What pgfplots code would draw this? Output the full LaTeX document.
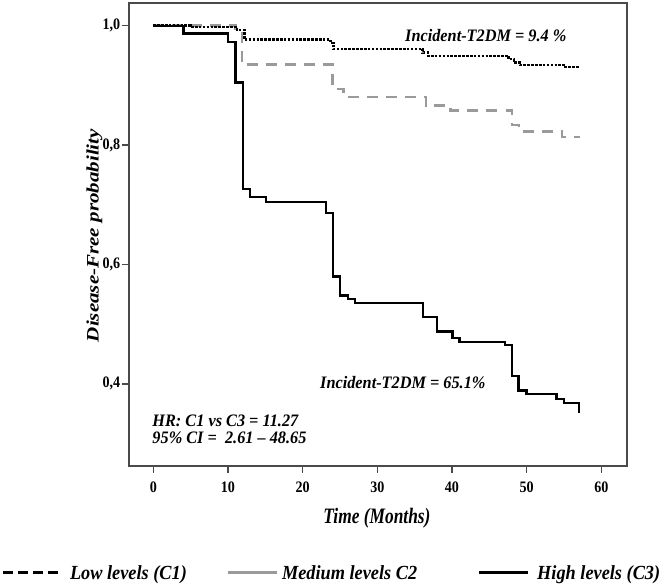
\documentclass[border=0pt]{standalone}
\usepackage{fontspec}
\usepackage{pgfplots}
\pgfplotsset{compat=1.18}
\setmainfont{Liberation Serif}
\newfontfamily\tickfamily{Liberation Serif}[FakeStretch=0.88]
\newfontfamily\annfamily{Liberation Serif}[FakeStretch=0.93, Ligatures=TeX]
\newfontfamily\legfamily{Liberation Serif}[FakeStretch=0.915]
\newfontfamily\xlabfamily{Liberation Serif}[FakeStretch=0.79]
\newfontfamily\ylabfamily{Liberation Serif}[FakeStretch=1.2]
\newcommand\tickfont{\tickfamily\bfseries\fontsize{16}{19}\selectfont}
\newcommand\annfont{\annfamily\bfseries\itshape\fontsize{17.5}{21}\selectfont}
\newcommand\legfont{\legfamily\bfseries\itshape\fontsize{20}{24}\selectfont}
\newcommand\xlabfont{\xlabfamily\bfseries\itshape\fontsize{22}{26}\selectfont}
\newcommand\ylabfont{\ylabfamily\bfseries\itshape\fontsize{17.5}{21}\selectfont}
\definecolor{axgray}{HTML}{4A4A4A}
\definecolor{medgray}{HTML}{9A9A9A}
\begin{document}
\begin{tikzpicture}
\useasboundingbox (0,0) rectangle (668pt,586pt);
\begin{axis}[
  at={(129.3pt,120.3pt)}, anchor=south west,
  scale only axis, width=497.4pt, height=463pt,
  xmin=-3.21, xmax=63.4, ymin=0.263, ymax=1.0385,
  xtick={0,10,20,30,40,50,60},
  xticklabels={0,10,20,30,40,50,60},
  ytick={0.4,0.6,0.8,1.0},
  yticklabels={{0,4},{0,6},{0,8},{1,0}},
  xtick pos=bottom, ytick pos=left,
  tick align=outside, major tick length=7pt,
  axis line style={axgray, line width=1.8pt},
  every tick/.style={axgray, line width=1.5pt},
  tick label style={font=\tickfont, inner sep=0pt},
  xticklabel style={anchor=north, yshift=-9pt},
  yticklabel style={anchor=east, xshift=-2pt},
  xlabel={Time (Months)},
  ylabel={Disease-Free probability},
  every axis x label/.style={at={(axis description cs:0.498,-0.1244)}, anchor=base, font=\xlabfont, inner sep=0pt},
  every axis y label/.style={at={(axis description cs:-0.0619,0.497)}, rotate=90, anchor=base, font=\ylabfont, inner sep=0pt},
  legend columns=3,
  legend cell align=left,
  legend style={at={(axis description cs:-0.2565,-0.2317)}, anchor=west,
    draw=none, fill=none, inner sep=0pt, outer sep=0pt, column sep=0pt,
    nodes={inner sep=0pt, font=\legfont}},
  clip=false,
]
% legend samples as shown in the reference
\addlegendimage{legend image code/.code={\draw[black, line width=3pt, dash pattern=on 9.5pt off 5.5pt] (0pt,0pt) -- (56.3pt,0pt);}}
\addlegendentry{\hspace*{9pt}\makebox[156pt][l]{Low levels (C1)}}
\addlegendimage{legend image code/.code={\draw[medgray, line width=3pt] (0pt,0pt) -- (49pt,0pt);}}
\addlegendentry{\hspace*{4pt}\makebox[195.5pt][l]{Medium levels C2}}
\addlegendimage{legend image code/.code={\draw[black, line width=3pt] (0pt,0pt) -- (48.7pt,0pt);}}
\addlegendentry{\hspace*{8pt}\makebox[122pt][l]{High levels (C3)}}

% C2 medium levels (gray dashed)
\addplot[forget plot, const plot mark left, medgray, line width=2.4pt, dash pattern=on 11pt off 8pt] coordinates {
(0,1.000) (11.0,0.995) (11.9,0.935) (24.0,0.894) (25.5,0.881) (36.5,0.866) (39.8,0.858) (48.0,0.834) (49.0,0.823) (54.7,0.814) (57.1,0.814)
};
% C1 low levels (black dotted)
\addplot[forget plot, const plot mark left, black, line width=2.7pt, dash pattern=on 2.6pt off 1.3pt] coordinates {
(0,1.000) (5.0,0.998) (11.2,0.993) (12.2,0.977) (23.7,0.971) (24.1,0.961) (36.1,0.955) (36.8,0.949) (47.6,0.944) (48.3,0.938) (49.1,0.934) (55.0,0.931) (57.1,0.931)
};
% C3 high levels (black solid)
\addplot[forget plot, const plot mark left, black, line width=2.3pt] coordinates {
(0,1.000) (4.06,0.987) (10.0,0.973) (11.0,0.905) (12.0,0.726) (13.0,0.713) (15.05,0.705) (23.1,0.686) (24.05,0.580) (25.0,0.548) (26.06,0.542) (27.0,0.535) (36.1,0.512) (38.0,0.488) (40.07,0.477) (41.0,0.470) (47.1,0.465) (48.05,0.413) (48.9,0.389) (49.97,0.383) (54.0,0.375) (55.0,0.368) (57.05,0.352)
};

\node[anchor=base west, inner sep=0pt, font=\annfont] at (axis description cs:0.5543,0.9166) {Incident-T2DM = 9.4 \%};
\node[anchor=base west, inner sep=0pt, font=\annfont] at (axis description cs:0.3834,0.1672) {Incident-T2DM = 65.1\%};
\node[anchor=base west, inner sep=0pt, font=\annfont] at (axis description cs:0.0462,0.0857) {HR: C1 vs C3 = 11.27};
\node[anchor=base west, inner sep=0pt, font=\annfont] at (axis description cs:0.0462,0.0484) {95\% CI = \ 2.61 – 48.65};
\end{axis}
\end{tikzpicture}
\end{document}
